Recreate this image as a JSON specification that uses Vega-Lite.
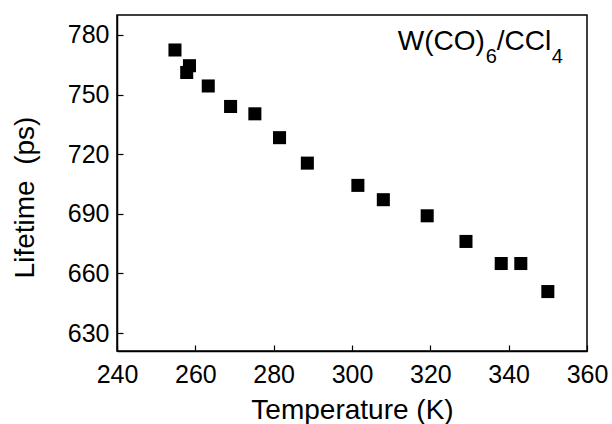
{
  "$schema": "https://vega.github.io/schema/vega-lite/v6.json",
  "width": 470,
  "height": 336,
  "autosize": "none",
  "padding": {"left": 117, "top": 15, "right": 25, "bottom": 73},
  "background": "white",
  "config": {
    "font": "Liberation Sans",
    "view": {"stroke": "black", "strokeWidth": 1.5},
    "axis": {"grid": false, "domainColor": "black", "domainWidth": 1.5, "tickColor": "black", "tickWidth": 1.2,
             "labelColor": "black", "titleColor": "black", "labelFont": "Liberation Sans", "titleFont": "Liberation Sans",
             "titleFontWeight": "normal"}
  },
  "data": {"values": [
    {"T": 254.8, "L": 772.4},
    {"T": 258.5, "L": 764.5},
    {"T": 257.8, "L": 761.1},
    {"T": 263.3, "L": 754.3},
    {"T": 269.0, "L": 744.0},
    {"T": 275.2, "L": 740.3},
    {"T": 281.5, "L": 728.3},
    {"T": 288.6, "L": 715.5},
    {"T": 301.5, "L": 704.3},
    {"T": 308.0, "L": 697.1},
    {"T": 319.2, "L": 689.0},
    {"T": 329.1, "L": 676.1},
    {"T": 338.1, "L": 665.0},
    {"T": 343.1, "L": 665.0},
    {"T": 350.0, "L": 650.9}
  ]},
  "layer": [
    {
      "mark": {"type": "point", "shape": "square", "filled": true, "color": "black", "size": 170, "opacity": 1},
      "encoding": {
        "x": {"field": "T", "type": "quantitative", "scale": {"domain": [240, 360], "nice": false, "zero": false},
              "axis": {"title": "Temperature (K)", "values": [240, 260, 280, 300, 320, 340, 360], "tickSize": -6,
                       "labelFontSize": 25, "labelPadding": 17, "titleFontSize": 28,
                       "titleBaseline": "alphabetic", "titleY": 67,
                       "labelFlush": false, "labelOverlap": false}},
        "y": {"field": "L", "type": "quantitative", "scale": {"domain": [621, 790], "nice": false, "zero": false},
              "axis": {"title": "Lifetime\u00a0\u00a0(ps)", "values": [630, 645, 660, 675, 690, 705, 720, 735, 750, 765, 780],
                       "labelExpr": "datum.value % 30 == 0 ? datum.label : ''", "tickSize": -6,
                       "labelFontSize": 25, "labelPadding": 14, "titleFontSize": 28,
                       "titleBaseline": "alphabetic", "titleX": -84, "titleY": 182,
                       "labelFlush": false, "labelOverlap": false}}
      }
    },
    {
      "data": {"values": [{"T": 311.7, "L": 772.4, "a": "W(CO)", "b": "6", "c": "/CCl", "d": "4"}]},
      "encoding": {
        "x": {"field": "T", "type": "quantitative"},
        "y": {"field": "L", "type": "quantitative"}
      },
      "layer": [
        {"mark": {"type": "text", "align": "left", "baseline": "alphabetic", "fontSize": 28, "color": "black", "dx": 0},
         "encoding": {"text": {"field": "a"}}},
        {"mark": {"type": "text", "align": "left", "baseline": "alphabetic", "fontSize": 20, "color": "black", "dx": 88, "dy": 13},
         "encoding": {"text": {"field": "b"}}},
        {"mark": {"type": "text", "align": "left", "baseline": "alphabetic", "fontSize": 28, "color": "black", "dx": 99},
         "encoding": {"text": {"field": "c"}}},
        {"mark": {"type": "text", "align": "left", "baseline": "alphabetic", "fontSize": 20, "color": "black", "dx": 154, "dy": 13},
         "encoding": {"text": {"field": "d"}}}
      ]
    }
  ]
}
